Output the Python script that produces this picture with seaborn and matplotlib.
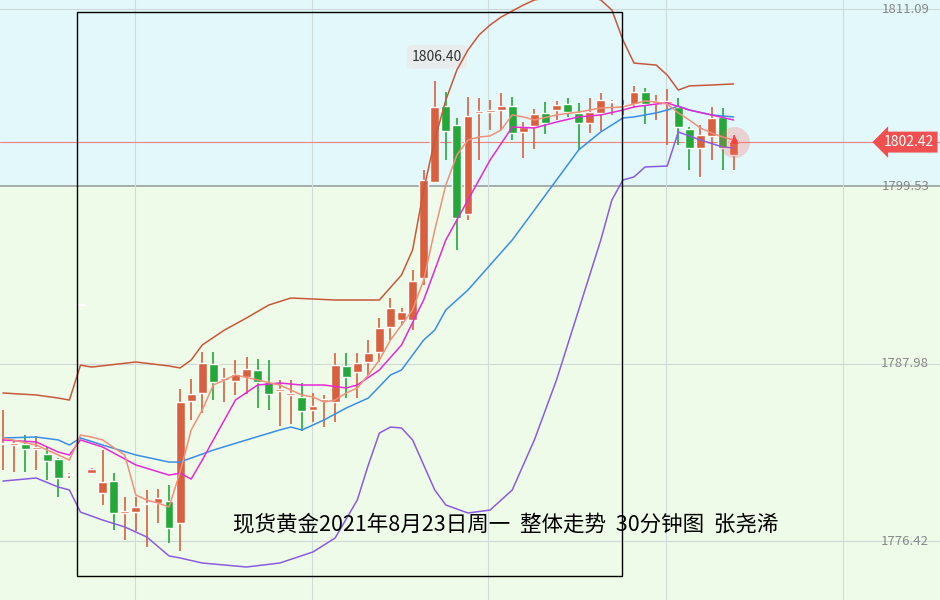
import numpy as np
import pandas as pd
import matplotlib
matplotlib.use("Agg")
import matplotlib.pyplot as plt
import seaborn as sns
from matplotlib.patches import Rectangle

# 30-minute candles (open, high, low, close)
opens = [1782.74, 1782.68, 1782.74, 1782.42, 1782.09, 1781.77, 1780.72, 1791.80, 1780.85, 1779.55,
         1780.33, 1778.25, 1778.31, 1778.83, 1778.90, 1779.03, 1777.60, 1785.55, 1786.07, 1787.96,
         1786.92, 1786.85, 1787.11, 1787.57, 1786.79, 1786.20, 1785.94, 1785.81, 1784.96, 1785.55,
         1785.48, 1787.83, 1787.44, 1788.09, 1788.74, 1790.37, 1790.83, 1790.83, 1793.56, 1799.82,
         1804.77, 1803.53, 1797.73, 1804.32, 1804.38, 1804.51, 1804.77, 1803.08, 1803.47, 1804.32,
         1804.51, 1804.90, 1804.32, 1803.66, 1804.32, 1805.03, 1804.71, 1804.90, 1805.68, 1804.97,
         1804.97, 1804.71, 1803.27, 1802.04, 1802.82, 1804.06, 1801.58]
highs = [1784.96, 1783.01, 1783.33, 1783.27, 1782.55, 1781.83, 1780.85, 1791.87, 1781.18, 1782.36,
         1780.85, 1779.29, 1779.29, 1779.75, 1779.81, 1780.07, 1786.33, 1786.98, 1788.74, 1788.74,
         1787.70, 1788.22, 1788.41, 1788.28, 1788.22, 1786.92, 1786.92, 1786.72, 1786.07, 1785.94,
         1788.68, 1788.68, 1788.68, 1789.52, 1790.96, 1792.26, 1791.61, 1794.08, 1800.60, 1806.40,
         1805.68, 1803.99, 1805.36, 1805.29, 1805.16, 1805.62, 1805.36, 1803.73, 1804.58, 1805.03,
         1805.10, 1805.29, 1804.97, 1805.29, 1805.62, 1805.16, 1805.16, 1806.08, 1805.95, 1805.49,
         1805.88, 1805.29, 1803.40, 1803.53, 1804.71, 1804.64, 1802.89]
lows = [1781.05, 1780.92, 1780.92, 1781.05, 1780.40, 1779.29, 1780.53, 1791.74, 1780.79, 1778.77,
        1777.14, 1776.49, 1777.07, 1776.04, 1777.60, 1776.30, 1775.78, 1784.31, 1784.77, 1785.61,
        1785.48, 1785.94, 1786.00, 1785.09, 1784.96, 1783.92, 1784.05, 1783.59, 1784.18, 1783.85,
        1784.18, 1785.74, 1785.74, 1787.24, 1788.09, 1789.52, 1790.50, 1790.17, 1793.11, 1799.82,
        1801.25, 1795.39, 1797.34, 1801.25, 1803.21, 1803.21, 1802.56, 1801.38, 1801.97, 1802.95,
        1803.86, 1804.06, 1801.91, 1803.02, 1803.14, 1804.19, 1804.19, 1804.64, 1803.60, 1803.86,
        1802.23, 1802.23, 1800.60, 1800.15, 1801.25, 1800.60, 1800.60]
closes = [1782.81, 1782.68, 1782.42, 1782.42, 1781.64, 1780.53, 1780.72, 1791.80, 1781.12, 1780.27,
          1778.25, 1778.25, 1778.64, 1778.83, 1779.22, 1777.27, 1785.48, 1786.00, 1788.02, 1786.79,
          1786.92, 1787.31, 1787.63, 1786.79, 1786.00, 1786.20, 1785.94, 1784.90, 1785.22, 1785.55,
          1787.89, 1787.11, 1788.02, 1788.68, 1790.30, 1791.61, 1791.35, 1793.36, 1799.95, 1804.71,
          1803.14, 1797.47, 1804.12, 1804.32, 1804.38, 1804.77, 1803.02, 1803.40, 1804.25, 1803.66,
          1804.84, 1804.38, 1803.66, 1804.38, 1805.16, 1805.03, 1804.71, 1805.68, 1804.90, 1804.97,
          1804.97, 1803.40, 1802.04, 1802.89, 1803.99, 1802.04, 1802.42]

# indicator lines (vertices at candle indices)
upper_idx = [0, 3, 5, 6, 7, 8, 12, 15, 16, 17, 18, 20, 22, 24, 26, 30, 34, 36, 37, 38, 39, 40, 41, 42,
             43, 44, 45, 47, 48, 50, 52, 54, 55, 56, 57, 59, 60, 61, 62, 64, 66]
upper_val = [1786.07, 1785.94, 1785.74, 1785.61, 1787.89, 1787.76, 1788.09, 1787.83, 1787.70, 1788.22,
             1789.20, 1790.17, 1790.96, 1791.80, 1792.26, 1792.13, 1792.13, 1793.76, 1795.39, 1799.30,
             1802.56, 1805.16, 1807.12, 1808.42, 1809.40, 1810.05, 1810.57, 1811.35, 1811.68, 1811.94,
             1812.20, 1811.68, 1811.03, 1809.07, 1807.57, 1807.44, 1806.79, 1805.81, 1806.08, 1806.14,
             1806.21]
lower_idx = [0, 3, 5, 6, 7, 9, 11, 13, 15, 16, 18, 22, 25, 28, 30, 32, 33, 34, 35, 36, 37, 38, 39, 40,
             42, 44, 46, 48, 50, 52, 54, 55, 56, 57, 58, 60, 61, 63, 65, 66]
lower_val = [1780.33, 1780.53, 1779.94, 1779.75, 1778.31, 1777.79, 1777.34, 1776.68, 1775.45, 1775.32,
             1774.99, 1774.73, 1774.99, 1775.71, 1776.62, 1779.09, 1781.38, 1783.46, 1783.85, 1783.79,
             1783.01, 1781.38, 1779.75, 1778.77, 1778.25, 1778.44, 1779.75, 1783.01, 1786.92, 1791.48,
             1796.04, 1798.65, 1799.95, 1800.15, 1800.80, 1800.86, 1803.08, 1802.56, 1802.10, 1802.04]
mid_idx = [0, 3, 5, 6, 7, 9, 12, 15, 16, 17, 19, 22, 25, 26, 27, 29, 31, 33, 35, 36, 38, 39, 40, 42,
           44, 46, 48, 50, 52, 54, 56, 57, 59, 60, 61, 62, 64, 66]
mid_val = [1783.14, 1783.20, 1783.01, 1782.68, 1783.14, 1782.68, 1782.03, 1781.57, 1781.57, 1781.83,
           1782.35, 1783.01, 1783.66, 1783.85, 1783.66, 1784.31, 1785.09, 1785.74, 1787.24, 1787.57,
           1789.52, 1790.17, 1791.48, 1792.78, 1794.41, 1796.04, 1797.99, 1799.95, 1801.91, 1803.08,
           1803.99, 1804.06, 1804.32, 1804.51, 1804.77, 1804.51, 1804.19, 1804.06]
ma10_idx = [0, 3, 5, 6, 7, 9, 12, 15, 16, 17, 18, 19, 21, 23, 25, 27, 29, 31, 32, 34, 36, 38, 39, 40,
            42, 44, 46, 48, 50, 52, 54, 56, 57, 59, 60, 62, 64, 66]
ma10_val = [1783.01, 1782.88, 1782.22, 1782.03, 1783.01, 1782.55, 1781.38, 1780.72, 1780.85, 1780.46,
            1781.70, 1783.01, 1785.61, 1786.59, 1786.72, 1786.59, 1786.59, 1786.40, 1786.59, 1787.57,
            1789.20, 1792.13, 1794.08, 1796.04, 1798.65, 1801.25, 1803.40, 1803.34, 1803.73, 1804.06,
            1804.19, 1804.51, 1804.71, 1804.90, 1804.97, 1804.51, 1804.19, 1803.86]
ma5_idx = [0, 3, 5, 6, 7, 8, 9, 11, 12, 13, 14, 15, 16, 17, 18, 19, 21, 23, 25, 27, 28, 29, 30, 31, 32,
           33, 34, 35, 36, 37, 38, 39, 40, 41, 42, 43, 44, 45, 46, 47, 48, 50, 52, 54, 56, 58, 59, 60,
           61, 62, 63, 64, 65, 66]
ma5_val = [1783.14, 1782.68, 1782.03, 1781.70, 1783.33, 1783.20, 1783.01, 1782.03, 1779.42, 1779.09,
           1778.90, 1778.64, 1780.92, 1783.66, 1784.96, 1786.59, 1787.24, 1786.92, 1786.59, 1785.94,
           1785.81, 1785.48, 1785.61, 1786.07, 1786.40, 1787.24, 1788.22, 1789.52, 1790.50, 1791.48,
           1793.43, 1796.69, 1799.62, 1801.58, 1802.56, 1802.75, 1802.82, 1803.21, 1804.19, 1804.06,
           1803.86, 1804.19, 1804.38, 1804.64, 1804.71, 1805.10, 1805.03, 1804.90, 1804.32, 1803.86,
           1803.34, 1803.02, 1802.75, 1802.56]

axis_ticks = [1811.09, 1799.53, 1787.98, 1776.42]
last_price = 1802.42
high_label = "1806.40"
caption = "现货黄金2021年8月23日周一  整体走势  30分钟图  张尧浠"

RED = "#d9603e"
GREEN = "#25a83a"
YMIN, YMAX = 1772.58, 1811.68

sns.set_style("white")
plt.rcParams["font.family"] = ["Noto Sans CJK SC", "DejaVu Sans"]

fig = plt.figure(figsize=(9.4, 6.0), dpi=100)
ax = fig.add_axes([0, 0, 1, 1])
ax.set_xlim(-0.27, 84.64)
ax.set_ylim(YMIN, YMAX)
ax.axis("off")

# backgrounds
ax.axhspan(1799.53, 1812.5, color="#e2f8fb", zorder=0)
ax.axhspan(1770, 1799.53, color="#eefbe8", zorder=0)
for t in axis_ticks:
    ax.axhline(t, color="#9aa0a0" if t == 1799.53 else "#cfd8d8", lw=1.2 if t == 1799.53 else 0.8, zorder=1)
for vx in [11.9, 27.9, 43.8, 59.9, 75.9]:
    ax.axvline(vx, color="#cfdcdc", lw=0.8, zorder=1)

df = pd.DataFrame({"o": opens, "h": highs, "l": lows, "c": closes})
df["i"] = np.arange(len(df))
col = np.where(df["c"] >= df["o"], RED, GREEN)
ax.vlines(df["i"], df["l"], df["h"], colors=col, lw=1.2, zorder=3)
bot = np.minimum(df["o"], df["c"])
hgt = np.maximum(np.abs(df["c"] - df["o"]), 0.1)
ax.bar(df["i"], hgt, bottom=bot, width=0.8, color=col, zorder=4)

lines = [(upper_idx, upper_val, "#c8583a"), (lower_idx, lower_val, "#8a5ce0"),
         (mid_idx, mid_val, "#3a8ee6"), (ma10_idx, ma10_val, "#e629d6"),
         (ma5_idx, ma5_val, "#f0907a")]
for idx, val, c in lines:
    sns.lineplot(x=idx, y=val, ax=ax, color=c, lw=1.1, zorder=5)

# last price
ax.axhline(last_price, color="#f08080", lw=0.8, zorder=2)
ax.scatter([66], [last_price], s=500, color="#ff6060", alpha=0.25, zorder=6, lw=0)
ax.scatter([66], [1802.6], s=40, color="#ff4040", marker="^", zorder=6, lw=0)

for t in axis_ticks:
    fy = (t - YMIN) / (YMAX - YMIN)
    ax.text(0.963, fy, f"{t:.2f}", transform=ax.transAxes, ha="center", va="center",
            fontsize=9.5, color="#888888", zorder=8)
ax.text(0.967, (last_price - YMIN) / (YMAX - YMIN), f"{last_price:.2f}",
        transform=ax.transAxes, ha="center", va="center", fontsize=10, color="white",
        bbox=dict(boxstyle="larrow,pad=0.25", fc="#f05050", ec="none"), zorder=8)

ax.text(0.465, 0.905, high_label, transform=ax.transAxes, ha="center", va="center", fontsize=10,
        color="#333333", bbox=dict(boxstyle="round,pad=0.35", fc="#e8ecec", ec="none"))

ax.add_patch(Rectangle((77 / 940, 24 / 600), 545 / 940, 564 / 600, transform=ax.transAxes,
                       fill=False, ec="black", lw=1, zorder=7))
ax.text(233 / 940, 1 - 525 / 600, caption, transform=ax.transAxes, ha="left", va="center",
        fontsize=15.5, color="black", zorder=8)

fig.savefig("out.png", dpi=100)
